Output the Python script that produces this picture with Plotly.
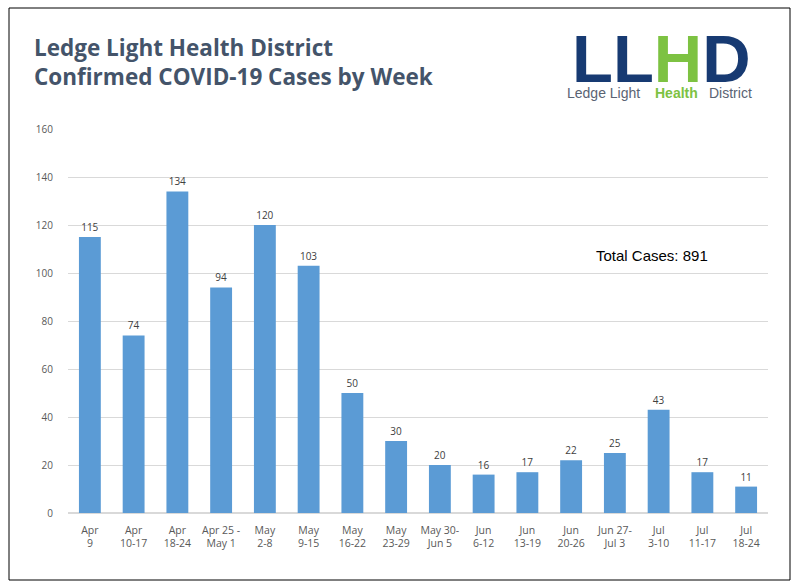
#weekly confirmed covid cases, LLHD style bar chart
import plotly.graph_objects as go

weeks = ['Apr<br>9', 'Apr<br>10-17', 'Apr<br>18-24', 'Apr 25 -<br>May 1', 'May<br>2-8', 'May<br>9-15',
         'May<br>16-22', 'May<br>23-29', 'May 30-<br>Jun 5', 'Jun<br>6-12', 'Jun<br>13-19', 'Jun<br>20-26',
         'Jun 27-<br>Jul 3', 'Jul<br>3-10', 'Jul<br>11-17', 'Jul<br>18-24']
cases = [115, 74, 134, 94, 120, 103, 50, 30, 20, 16, 17, 22, 25, 43, 17, 11]
y_ticks = [0, 20, 40, 60, 80, 100, 120, 140, 160]

W, H = 798, 588
L, R, T, B = 68, 30, 129, 75

#helpers to go from pixel position to paper coords (paper = plot area)
def px_x(px):
    return (px - L) / (W - L - R)
def px_y(py):
    return (H - B - py) / (H - T - B)

fig = go.Figure()
fig.add_trace(go.Bar(x=weeks, y=cases, marker_color='#5B9BD5', marker_line_width=0,
                     text=cases, textposition='outside', cliponaxis=False,
                     textfont=dict(size=10, color='#404040')))

fig.update_layout(
    width=W, height=H,
    margin=dict(l=L, r=R, t=T, b=B),
    paper_bgcolor='white', plot_bgcolor='white',
    font=dict(family='Open Sans', size=10, color='#595959'),
    bargap=0.5, showlegend=False,
)
fig.update_yaxes(range=[0, 160], tickvals=y_ticks, showgrid=True, gridcolor='#D9D9D9', gridwidth=1,
                 zeroline=True, zerolinecolor='#D9D9D9', ticks='', tickfont=dict(size=10, color='#595959'),
                 ticklabelstandoff=14)
fig.update_xaxes(showline=False, ticks='', tickfont=dict(size=10.5, color='#595959'), ticklabelstandoff=9)

#outer border
fig.add_shape(type='rect', xref='paper', yref='paper', x0=px_x(9), x1=px_x(790), y0=px_y(580), y1=px_y(8),
              line=dict(color='black', width=1))

#title
fig.add_annotation(xref='paper', yref='paper', x=px_x(32), y=px_y(62), xanchor='left', yanchor='middle',
                   text='<b>Ledge Light Health District<br>Confirmed COVID-19 Cases by Week</b>',
                   showarrow=False, align='left',
                   font=dict(family='Open Sans', size=22.5, color='#44546A'))

#logo
fig.add_annotation(xref='paper', yref='paper', x=px_x(661), y=px_y(58), xanchor='center', yanchor='middle',
                   text='<b>LL<span style="color:#7DC242">H</span>D</b>', showarrow=False, height=54,
                   font=dict(family='Liberation Sans', size=67, color='#173A72'))
fig.add_annotation(xref='paper', yref='paper', x=px_x(642), y=px_y(93), xanchor='right', yanchor='middle',
                   text='Ledge Light', showarrow=False,
                   font=dict(family='Liberation Sans', size=14, color='#5A6373'))
fig.add_annotation(xref='paper', yref='paper', x=px_x(676), y=px_y(93), xanchor='center', yanchor='middle',
                   text='<b>Health</b>', showarrow=False,
                   font=dict(family='Liberation Sans', size=14, color='#7DC242'))
fig.add_annotation(xref='paper', yref='paper', x=px_x(707), y=px_y(93), xanchor='left', yanchor='middle',
                   text='District', showarrow=False,
                   font=dict(family='Liberation Sans', size=14, color='#5A6373'))

#total
fig.add_annotation(xref='paper', yref='paper', x=px_x(652), y=px_y(255), xanchor='center', yanchor='middle',
                   text='Total Cases: ' + str(sum(cases)), showarrow=False,
                   font=dict(family='Liberation Sans', size=15, color='black'))

#page has a default body margin, drop it so the figure fills the window
fig.write_html("out.html", config={'displayModeBar': False},
               post_script="document.body.style.margin='0';")
